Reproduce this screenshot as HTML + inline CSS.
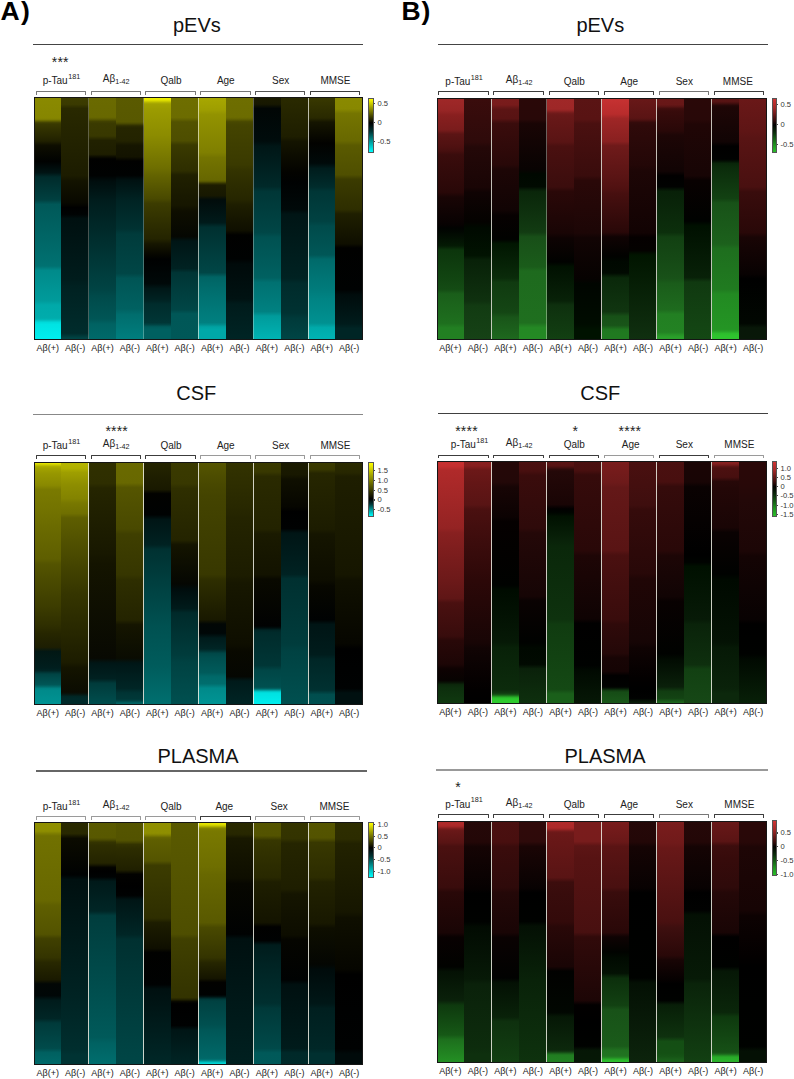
<!DOCTYPE html><html><head><meta charset="utf-8"><style>
html,body{margin:0;padding:0;background:#fff;}
body{width:794px;height:1079px;position:relative;overflow:hidden;font-family:"Liberation Sans", sans-serif;}
.t{position:absolute;white-space:nowrap;}
.r{position:absolute;}
sup{font-size:0.72em;vertical-align:0;position:relative;top:-0.74em;margin-left:0.5px;}
sub{font-size:0.72em;vertical-align:0;position:relative;top:0.3em;}
</style></head><body>
<div class="t" style="left:0.60px;top:-2.03px;width:60px;font-size:26.5px;line-height:26.5px;text-align:left;color:#000;font-weight:bold;letter-spacing:1.2px;">A)</div>
<div class="t" style="left:401.50px;top:-2.43px;width:60px;font-size:26.5px;line-height:26.5px;text-align:left;color:#000;font-weight:bold;letter-spacing:0.8px;">B)</div>
<div class="t" style="left:96.90px;top:15.37px;width:200px;font-size:20px;line-height:20px;text-align:center;color:#111;font-weight:normal;">pEVs</div>
<div class="r" style="left:33.00px;top:43.65px;width:330.00px;height:1.30px;background:#444;"></div>
<div class="t" style="left:30.30px;top:55.35px;width:60px;font-size:14px;line-height:14px;text-align:center;color:#222;font-weight:normal;letter-spacing:0.2px;">***</div>
<div class="t" style="left:21.40px;top:76.03px;width:80px;font-size:10px;line-height:10px;text-align:center;color:#222;font-weight:normal;">p-Tau<sup>181</sup></div>
<div class="r" style="left:35.80px;top:91.00px;width:50.40px;height:3.60px;border:1.2px solid #777;border-bottom:none;box-sizing:border-box;border-radius:1px 1px 0 0;"></div>
<div class="t" style="left:76.20px;top:74.13px;width:80px;font-size:10px;line-height:10px;text-align:center;color:#222;font-weight:normal;">A&beta;<sub>1-42</sub></div>
<div class="r" style="left:90.60px;top:91.00px;width:50.40px;height:3.60px;border:1.2px solid #777;border-bottom:none;box-sizing:border-box;border-radius:1px 1px 0 0;"></div>
<div class="t" style="left:131.00px;top:76.03px;width:80px;font-size:10px;line-height:10px;text-align:center;color:#222;font-weight:normal;">Qalb</div>
<div class="r" style="left:145.40px;top:91.00px;width:50.40px;height:3.60px;border:1.2px solid #777;border-bottom:none;box-sizing:border-box;border-radius:1px 1px 0 0;"></div>
<div class="t" style="left:185.80px;top:76.03px;width:80px;font-size:10px;line-height:10px;text-align:center;color:#222;font-weight:normal;">Age</div>
<div class="r" style="left:200.20px;top:91.00px;width:50.40px;height:3.60px;border:1.2px solid #777;border-bottom:none;box-sizing:border-box;border-radius:1px 1px 0 0;"></div>
<div class="t" style="left:240.60px;top:76.03px;width:80px;font-size:10px;line-height:10px;text-align:center;color:#222;font-weight:normal;">Sex</div>
<div class="r" style="left:255.00px;top:91.00px;width:50.40px;height:3.60px;border:1.2px solid #555;border-bottom:none;box-sizing:border-box;border-radius:1px 1px 0 0;"></div>
<div class="t" style="left:295.40px;top:76.03px;width:80px;font-size:10px;line-height:10px;text-align:center;color:#222;font-weight:normal;">MMSE</div>
<div class="r" style="left:309.80px;top:91.00px;width:50.40px;height:3.60px;border:1.2px solid #3c3c3c;border-bottom:none;box-sizing:border-box;border-radius:1px 1px 0 0;"></div>
<div class="r" style="left:34.00px;top:97.00px;width:27.70px;height:242.50px;background:linear-gradient(to bottom,#8a8a00 0%,#868600 8.71%,#7d7d00 9.23%,#636300 9.85%,#464600 10.46%,#393900 11.08%,#212100 18.09%,#0e0e00 19.85%,#000201 26.55%,#001414 31.19%,#002b2b 32.94%,#004040 42.32%,#005858 44.18%,#007171 69.54%,#008a8a 71.39%,#009b9b 83.87%,#00a9a9 85.62%,#00acac 90.98%,#00b6b6 91.60%,#00dada 92.73%,#00e3e3 93.56%,#00efef 100%);"></div>
<div class="r" style="left:61.40px;top:97.00px;width:27.70px;height:242.50px;background:linear-gradient(to bottom,#3d3d00 0%,#3a3a00 3.04%,#292900 4.69%,#1c1c00 32.42%,#131300 34.59%,#080800 43.66%,#000000 45.52%,#000303 48.30%,#001010 50.05%,#001c1c 74.90%,#002121 77.89%,#002c2c 97.27%,#004343 99.12%,#004545 100%);"></div>
<div class="r" style="left:88.80px;top:97.00px;width:27.70px;height:242.50px;background:linear-gradient(to bottom,#6a6a00 0%,#686800 8.30%,#5d5d00 9.02%,#414100 10.05%,#3a3a00 10.98%,#383800 16.03%,#212100 17.89%,#1e1e00 23.56%,#0d0d00 24.59%,#010100 25.52%,#000202 32.32%,#000d0d 34.59%,#001d1d 42.84%,#002e2e 59.02%,#004444 79.23%,#004b4b 82.22%,#005656 91.39%,#006262 93.35%,#006a6a 100%);"></div>
<div class="r" style="left:116.20px;top:97.00px;width:27.70px;height:242.50px;background:linear-gradient(to bottom,#5a5a00 0%,#585800 10.15%,#4e4e00 10.77%,#2c2c00 11.91%,#252500 12.73%,#232300 18.09%,#161600 19.85%,#131300 24.59%,#010100 26.34%,#000202 32.22%,#001111 34.18%,#002424 42.94%,#003232 54.38%,#003b3b 56.34%,#004646 72.63%,#005555 74.59%,#006161 87.27%,#006d6d 89.43%,#007f7f 100%);"></div>
<div class="r" style="left:143.60px;top:97.00px;width:27.70px;height:242.50px;background:linear-gradient(to bottom,#f0f000 0%,#ecec00 0.88%,#dede00 1.39%,#aeae00 2.42%,#a2a200 2.94%,#9c9c00 4.90%,#8c8c00 15.72%,#6e6e00 29.23%,#636300 32.42%,#494900 41.91%,#3c3c00 43.76%,#242400 58.40%,#161600 60.46%,#060600 65.00%,#000101 66.75%,#000909 76.75%,#001717 78.81%,#002222 83.35%,#002c2c 85.21%,#003636 92.84%,#004141 93.56%,#005a5a 94.59%,#006060 95.62%,#006060 100%);"></div>
<div class="r" style="left:171.00px;top:97.00px;width:27.70px;height:242.50px;background:linear-gradient(to bottom,#6e6e00 0%,#6c6c00 8.40%,#606000 9.33%,#525200 10.26%,#4e4e00 17.99%,#3a3a00 19.74%,#2e2e00 30.36%,#202000 32.11%,#161600 44.69%,#0e0e00 46.96%,#050702 57.47%,#001515 59.33%,#002222 70.57%,#003535 72.32%,#004646 87.47%,#005757 89.23%,#005858 100%);"></div>
<div class="r" style="left:198.40px;top:97.00px;width:27.70px;height:242.50px;background:linear-gradient(to bottom,#a8a800 0%,#9e9e00 5.21%,#939300 7.06%,#7f7f00 22.94%,#747400 24.90%,#676700 34.07%,#5b5b00 34.69%,#282800 35.82%,#1c1c00 36.44%,#171801 40.57%,#010c0b 42.32%,#001a1a 51.70%,#003030 53.56%,#004646 72.22%,#005454 73.14%,#006464 74.07%,#006d6d 79.12%,#008080 92.84%,#008d8d 93.66%,#00a2a2 94.59%,#00a8a8 95.72%,#00a8a8 100%);"></div>
<div class="r" style="left:225.80px;top:97.00px;width:27.70px;height:242.50px;background:linear-gradient(to bottom,#6e6e00 0%,#6c6c00 8.30%,#636300 9.02%,#494900 10.15%,#444400 11.49%,#3a3a00 27.78%,#333300 30.36%,#262600 42.11%,#1e1e00 44.38%,#0f0f00 55.00%,#010100 56.75%,#000202 66.65%,#000a0a 68.71%,#001212 83.14%,#001b1b 85.21%,#002525 100%);"></div>
<div class="r" style="left:253.20px;top:97.00px;width:27.70px;height:242.50px;background:linear-gradient(to bottom,#1a1a00 0%,#171801 2.94%,#010605 4.69%,#000c0c 18.20%,#001616 20.26%,#002929 36.86%,#003636 38.81%,#004646 55.72%,#005151 57.68%,#006161 74.38%,#007171 76.34%,#008181 88.30%,#009b9b 90.15%,#00b4b4 100%);"></div>
<div class="r" style="left:280.60px;top:97.00px;width:27.70px;height:242.50px;background:linear-gradient(to bottom,#2a2a00 0%,#1e1e00 16.34%,#141400 18.30%,#030300 30.98%,#000202 35.00%,#000909 46.24%,#001515 48.20%,#002222 74.59%,#002b2b 76.65%,#003232 88.71%,#003a3a 91.08%,#004545 100%);"></div>
<div class="r" style="left:308.00px;top:97.00px;width:27.70px;height:242.50px;background:linear-gradient(to bottom,#393900 0%,#292900 8.61%,#151500 10.36%,#020200 19.02%,#000a0a 27.27%,#001c1c 29.33%,#002c2c 37.06%,#003636 38.81%,#004242 51.19%,#004b4b 53.14%,#005757 65.00%,#006a6a 66.75%,#007c7c 79.64%,#008383 82.84%,#009191 93.04%,#00aaaa 94.90%,#00b4b4 100%);"></div>
<div class="r" style="left:335.40px;top:97.00px;width:27.70px;height:242.50px;background:linear-gradient(to bottom,#8a8a00 0%,#888800 4.90%,#757500 6.75%,#686800 18.09%,#5a5a00 19.85%,#4f4f00 32.01%,#3b3b00 33.87%,#2e2e00 46.24%,#1f1f00 48.09%,#0f0f00 60.36%,#010100 62.11%,#000202 79.23%,#000c0c 81.39%,#001b1b 93.35%,#002525 95.21%,#002525 100%);"></div>
<div class="r" style="left:88.30px;top:97.00px;width:1.00px;height:242.50px;background:rgba(238,238,228,0.3);"></div>
<div class="r" style="left:143.10px;top:97.00px;width:1.00px;height:242.50px;background:rgba(238,238,228,0.3);"></div>
<div class="r" style="left:197.90px;top:97.00px;width:1.00px;height:242.50px;background:rgba(238,238,228,0.65);"></div>
<div class="r" style="left:252.70px;top:97.00px;width:1.00px;height:242.50px;background:rgba(238,238,228,0.35);"></div>
<div class="r" style="left:307.50px;top:97.00px;width:1.00px;height:242.50px;background:rgba(238,238,228,0.75);"></div>
<div class="r" style="left:34.00px;top:97.00px;width:328.80px;height:242.50px;border:1px solid #151515;box-sizing:border-box;"></div>
<div class="t" style="left:27.70px;top:343.98px;width:40px;font-size:9px;line-height:9px;text-align:center;color:#222;font-weight:normal;">A&beta;(+)</div>
<div class="t" style="left:55.10px;top:343.98px;width:40px;font-size:9px;line-height:9px;text-align:center;color:#222;font-weight:normal;">A&beta;(-)</div>
<div class="t" style="left:82.50px;top:343.98px;width:40px;font-size:9px;line-height:9px;text-align:center;color:#222;font-weight:normal;">A&beta;(+)</div>
<div class="t" style="left:109.90px;top:343.98px;width:40px;font-size:9px;line-height:9px;text-align:center;color:#222;font-weight:normal;">A&beta;(-)</div>
<div class="t" style="left:137.30px;top:343.98px;width:40px;font-size:9px;line-height:9px;text-align:center;color:#222;font-weight:normal;">A&beta;(+)</div>
<div class="t" style="left:164.70px;top:343.98px;width:40px;font-size:9px;line-height:9px;text-align:center;color:#222;font-weight:normal;">A&beta;(-)</div>
<div class="t" style="left:192.10px;top:343.98px;width:40px;font-size:9px;line-height:9px;text-align:center;color:#222;font-weight:normal;">A&beta;(+)</div>
<div class="t" style="left:219.50px;top:343.98px;width:40px;font-size:9px;line-height:9px;text-align:center;color:#222;font-weight:normal;">A&beta;(-)</div>
<div class="t" style="left:246.90px;top:343.98px;width:40px;font-size:9px;line-height:9px;text-align:center;color:#222;font-weight:normal;">A&beta;(+)</div>
<div class="t" style="left:274.30px;top:343.98px;width:40px;font-size:9px;line-height:9px;text-align:center;color:#222;font-weight:normal;">A&beta;(-)</div>
<div class="t" style="left:301.70px;top:343.98px;width:40px;font-size:9px;line-height:9px;text-align:center;color:#222;font-weight:normal;">A&beta;(+)</div>
<div class="t" style="left:329.10px;top:343.98px;width:40px;font-size:9px;line-height:9px;text-align:center;color:#222;font-weight:normal;">A&beta;(-)</div>
<div class="r" style="left:368.30px;top:97.60px;width:5.60px;height:55.40px;background:linear-gradient(to bottom,#ffff00 0%,#a0a000 15.7%,#303000 36.0%,#000 45.0%,#003535 61.5%,#00aaaa 83.5%,#00ffff 100%);border:0.6px solid #555;box-sizing:border-box;"></div>
<div class="r" style="left:373.90px;top:102.70px;width:1.20px;height:1.20px;background:#444;"></div>
<div class="t" style="left:377.50px;top:99.62px;width:30px;font-size:7.6px;line-height:7.6px;text-align:left;color:#333;font-weight:normal;">0.5</div>
<div class="r" style="left:373.90px;top:121.80px;width:1.20px;height:1.20px;background:#444;"></div>
<div class="t" style="left:377.50px;top:118.72px;width:30px;font-size:7.6px;line-height:7.6px;text-align:left;color:#333;font-weight:normal;">0</div>
<div class="r" style="left:373.90px;top:141.10px;width:1.20px;height:1.20px;background:#444;"></div>
<div class="t" style="left:377.50px;top:138.02px;width:30px;font-size:7.6px;line-height:7.6px;text-align:left;color:#333;font-weight:normal;">-0.5</div>
<div class="t" style="left:96.20px;top:382.77px;width:200px;font-size:20px;line-height:20px;text-align:center;color:#111;font-weight:normal;">CSF</div>
<div class="r" style="left:33.00px;top:413.85px;width:330.00px;height:1.30px;background:#888;"></div>
<div class="t" style="left:86.70px;top:424.15px;width:60px;font-size:14px;line-height:14px;text-align:center;color:#222;font-weight:normal;letter-spacing:0.2px;">****</div>
<div class="t" style="left:21.40px;top:440.94px;width:80px;font-size:10px;line-height:10px;text-align:center;color:#222;font-weight:normal;">p-Tau<sup>181</sup></div>
<div class="r" style="left:35.80px;top:455.00px;width:50.40px;height:3.60px;border:1.2px solid #3c3c3c;border-bottom:none;box-sizing:border-box;border-radius:1px 1px 0 0;"></div>
<div class="t" style="left:76.20px;top:439.04px;width:80px;font-size:10px;line-height:10px;text-align:center;color:#222;font-weight:normal;">A&beta;<sub>1-42</sub></div>
<div class="r" style="left:90.60px;top:455.00px;width:50.40px;height:3.60px;border:1.2px solid #3c3c3c;border-bottom:none;box-sizing:border-box;border-radius:1px 1px 0 0;"></div>
<div class="t" style="left:131.00px;top:440.94px;width:80px;font-size:10px;line-height:10px;text-align:center;color:#222;font-weight:normal;">Qalb</div>
<div class="r" style="left:145.40px;top:455.00px;width:50.40px;height:3.60px;border:1.2px solid #3c3c3c;border-bottom:none;box-sizing:border-box;border-radius:1px 1px 0 0;"></div>
<div class="t" style="left:185.80px;top:440.94px;width:80px;font-size:10px;line-height:10px;text-align:center;color:#222;font-weight:normal;">Age</div>
<div class="r" style="left:200.20px;top:455.00px;width:50.40px;height:3.60px;border:1.2px solid #9a9a9a;border-bottom:none;box-sizing:border-box;border-radius:1px 1px 0 0;"></div>
<div class="t" style="left:240.60px;top:440.94px;width:80px;font-size:10px;line-height:10px;text-align:center;color:#222;font-weight:normal;">Sex</div>
<div class="r" style="left:255.00px;top:455.00px;width:50.40px;height:3.60px;border:1.2px solid #9a9a9a;border-bottom:none;box-sizing:border-box;border-radius:1px 1px 0 0;"></div>
<div class="t" style="left:295.40px;top:440.94px;width:80px;font-size:10px;line-height:10px;text-align:center;color:#222;font-weight:normal;">MMSE</div>
<div class="r" style="left:309.80px;top:455.00px;width:50.40px;height:3.60px;border:1.2px solid #9a9a9a;border-bottom:none;box-sizing:border-box;border-radius:1px 1px 0 0;"></div>
<div class="r" style="left:34.00px;top:462.20px;width:27.70px;height:242.40px;background:linear-gradient(to bottom,#eded00 0%,#e3e300 0.57%,#afaf00 1.80%,#a3a300 2.53%,#979700 4.69%,#898900 9.54%,#7a7a00 11.29%,#737300 19.74%,#6b6b00 26.55%,#5e5e00 39.95%,#545400 41.91%,#3c3c00 59.64%,#2e2e00 67.47%,#262600 70.57%,#1d1e02 76.24%,#021714 77.99%,#001e1e 84.79%,#002424 85.82%,#004343 87.27%,#004b4b 88.92%,#005555 91.49%,#006565 92.22%,#008282 93.14%,#008a8a 93.97%,#009494 100%);"></div>
<div class="r" style="left:61.40px;top:462.20px;width:27.70px;height:242.40px;background:linear-gradient(to bottom,#b7b700 0%,#afaf00 2.63%,#9f9f00 4.28%,#959500 7.27%,#8d8d00 9.54%,#838300 15.10%,#787800 16.96%,#6f6f00 21.19%,#5e5e00 22.94%,#353500 54.38%,#1c1c00 82.42%,#141400 84.48%,#0b0c02 94.69%,#08130c 95.41%,#012624 96.44%,#002a2a 97.47%,#002a2a 100%);"></div>
<div class="r" style="left:88.80px;top:462.20px;width:27.70px;height:242.40px;background:linear-gradient(to bottom,#303000 0%,#2e2e00 8.81%,#252500 10.77%,#181800 37.37%,#141400 41.80%,#080902 80.77%,#001616 82.73%,#002121 89.23%,#003b3b 91.08%,#004f4f 100%);"></div>
<div class="r" style="left:116.20px;top:462.20px;width:27.70px;height:242.40px;background:linear-gradient(to bottom,#6a6a00 0%,#686800 8.61%,#555500 10.46%,#494900 27.58%,#3f3f00 29.64%,#363600 46.44%,#2e2e00 48.51%,#242400 65.00%,#151500 66.96%,#0a0c02 80.77%,#001616 82.73%,#002626 93.25%,#003434 95.00%,#003838 97.58%,#004444 98.20%,#006363 99.23%,#006969 100%);"></div>
<div class="r" style="left:143.60px;top:462.20px;width:27.70px;height:242.40px;background:linear-gradient(to bottom,#252500 0%,#191900 11.29%,#020200 13.04%,#000202 21.70%,#001515 23.66%,#002222 34.07%,#003131 35.93%,#005151 67.27%,#005c5c 84.07%,#007070 100%);"></div>
<div class="r" style="left:171.00px;top:462.20px;width:27.70px;height:242.40px;background:linear-gradient(to bottom,#3a3a00 0%,#383800 8.92%,#2f2f00 10.88%,#242400 32.11%,#141400 34.07%,#050702 50.15%,#000d0d 52.42%,#001b1b 60.36%,#002a2a 62.11%,#003c3c 79.54%,#004242 82.42%,#005050 100%);"></div>
<div class="r" style="left:198.40px;top:462.20px;width:27.70px;height:242.40px;background:linear-gradient(to bottom,#555500 0%,#484800 9.33%,#444400 13.97%,#383800 46.34%,#2e2e00 48.51%,#191900 64.90%,#020705 66.65%,#000707 70.46%,#001b1b 72.42%,#002525 76.96%,#003434 77.78%,#004747 78.71%,#004e4e 80.26%,#005b5b 86.65%,#006969 88.40%,#006d6d 91.19%,#007b7b 92.11%,#008a8a 93.04%,#009595 100%);"></div>
<div class="r" style="left:225.80px;top:462.20px;width:27.70px;height:242.40px;background:linear-gradient(to bottom,#333300 0%,#282800 18.61%,#242400 22.94%,#1c1c00 46.65%,#171700 49.64%,#0e0e00 74.90%,#090900 77.89%,#050702 88.30%,#001a1a 90.15%,#002525 100%);"></div>
<div class="r" style="left:253.20px;top:462.20px;width:27.70px;height:242.40px;background:linear-gradient(to bottom,#3a3a00 0%,#383800 4.07%,#2a2a00 5.93%,#232300 27.58%,#1a1a00 29.54%,#131300 46.34%,#090900 48.30%,#010202 67.47%,#000c0c 68.20%,#002525 69.23%,#002b2b 70.26%,#003636 83.76%,#004646 85.72%,#005050 92.53%,#005a5a 93.04%,#007070 93.45%,#00c1c1 94.38%,#00d7d7 94.79%,#00e2e2 95.31%,#00efef 100%);"></div>
<div class="r" style="left:280.60px;top:462.20px;width:27.70px;height:242.40px;background:linear-gradient(to bottom,#1a1a00 0%,#181800 5.21%,#0f0f00 7.16%,#060600 18.40%,#000000 20.46%,#000202 27.37%,#001515 29.23%,#002222 46.24%,#003030 47.99%,#003c3c 74.90%,#004242 77.99%,#005050 100%);"></div>
<div class="r" style="left:308.00px;top:462.20px;width:27.70px;height:242.40px;background:linear-gradient(to bottom,#3a3a00 0%,#373700 3.04%,#262600 4.69%,#1c1c00 27.68%,#151500 29.74%,#0d0d00 48.51%,#070700 50.98%,#000202 64.90%,#001515 66.86%,#001c1c 79.23%,#002626 81.19%,#003131 93.87%,#003f3f 94.79%,#004e4e 95.72%,#005050 100%);"></div>
<div class="r" style="left:335.40px;top:462.20px;width:27.70px;height:242.40px;background:linear-gradient(to bottom,#2a2a00 0%,#272700 4.28%,#1e1e00 6.03%,#161600 46.44%,#101000 48.71%,#060600 74.69%,#000000 76.86%,#000202 93.14%,#001010 95.10%,#001010 100%);"></div>
<div class="r" style="left:88.30px;top:462.20px;width:1.00px;height:242.40px;background:rgba(238,238,228,0.85);"></div>
<div class="r" style="left:143.10px;top:462.20px;width:1.00px;height:242.40px;background:rgba(238,238,228,0.85);"></div>
<div class="r" style="left:197.90px;top:462.20px;width:1.00px;height:242.40px;background:rgba(238,238,228,0.85);"></div>
<div class="r" style="left:252.70px;top:462.20px;width:1.00px;height:242.40px;background:rgba(238,238,228,0.85);"></div>
<div class="r" style="left:307.50px;top:462.20px;width:1.00px;height:242.40px;background:rgba(238,238,228,0.85);"></div>
<div class="r" style="left:34.00px;top:462.20px;width:328.80px;height:242.40px;border:1px solid #151515;box-sizing:border-box;"></div>
<div class="t" style="left:27.70px;top:708.78px;width:40px;font-size:9px;line-height:9px;text-align:center;color:#222;font-weight:normal;">A&beta;(+)</div>
<div class="t" style="left:55.10px;top:708.78px;width:40px;font-size:9px;line-height:9px;text-align:center;color:#222;font-weight:normal;">A&beta;(-)</div>
<div class="t" style="left:82.50px;top:708.78px;width:40px;font-size:9px;line-height:9px;text-align:center;color:#222;font-weight:normal;">A&beta;(+)</div>
<div class="t" style="left:109.90px;top:708.78px;width:40px;font-size:9px;line-height:9px;text-align:center;color:#222;font-weight:normal;">A&beta;(-)</div>
<div class="t" style="left:137.30px;top:708.78px;width:40px;font-size:9px;line-height:9px;text-align:center;color:#222;font-weight:normal;">A&beta;(+)</div>
<div class="t" style="left:164.70px;top:708.78px;width:40px;font-size:9px;line-height:9px;text-align:center;color:#222;font-weight:normal;">A&beta;(-)</div>
<div class="t" style="left:192.10px;top:708.78px;width:40px;font-size:9px;line-height:9px;text-align:center;color:#222;font-weight:normal;">A&beta;(+)</div>
<div class="t" style="left:219.50px;top:708.78px;width:40px;font-size:9px;line-height:9px;text-align:center;color:#222;font-weight:normal;">A&beta;(-)</div>
<div class="t" style="left:246.90px;top:708.78px;width:40px;font-size:9px;line-height:9px;text-align:center;color:#222;font-weight:normal;">A&beta;(+)</div>
<div class="t" style="left:274.30px;top:708.78px;width:40px;font-size:9px;line-height:9px;text-align:center;color:#222;font-weight:normal;">A&beta;(-)</div>
<div class="t" style="left:301.70px;top:708.78px;width:40px;font-size:9px;line-height:9px;text-align:center;color:#222;font-weight:normal;">A&beta;(+)</div>
<div class="t" style="left:329.10px;top:708.78px;width:40px;font-size:9px;line-height:9px;text-align:center;color:#222;font-weight:normal;">A&beta;(-)</div>
<div class="r" style="left:368.30px;top:461.90px;width:5.60px;height:54.80px;background:linear-gradient(to bottom,#ffff00 0%,#a0a000 23.8%,#303000 54.4%,#000 68.0%,#003535 77.6%,#00aaaa 90.4%,#00ffff 100%);border:0.6px solid #555;box-sizing:border-box;"></div>
<div class="r" style="left:373.90px;top:470.20px;width:1.20px;height:1.20px;background:#444;"></div>
<div class="t" style="left:377.50px;top:467.12px;width:30px;font-size:7.6px;line-height:7.6px;text-align:left;color:#333;font-weight:normal;">1.5</div>
<div class="r" style="left:373.90px;top:479.80px;width:1.20px;height:1.20px;background:#444;"></div>
<div class="t" style="left:377.50px;top:476.72px;width:30px;font-size:7.6px;line-height:7.6px;text-align:left;color:#333;font-weight:normal;">1.0</div>
<div class="r" style="left:373.90px;top:489.80px;width:1.20px;height:1.20px;background:#444;"></div>
<div class="t" style="left:377.50px;top:486.72px;width:30px;font-size:7.6px;line-height:7.6px;text-align:left;color:#333;font-weight:normal;">0.5</div>
<div class="r" style="left:373.90px;top:499.40px;width:1.20px;height:1.20px;background:#444;"></div>
<div class="t" style="left:377.50px;top:496.32px;width:30px;font-size:7.6px;line-height:7.6px;text-align:left;color:#333;font-weight:normal;">0</div>
<div class="r" style="left:373.90px;top:509.10px;width:1.20px;height:1.20px;background:#444;"></div>
<div class="t" style="left:377.50px;top:506.02px;width:30px;font-size:7.6px;line-height:7.6px;text-align:left;color:#333;font-weight:normal;">-0.5</div>
<div class="t" style="left:98.00px;top:746.07px;width:200px;font-size:20px;line-height:20px;text-align:center;color:#111;font-weight:normal;">PLASMA</div>
<div class="r" style="left:36.40px;top:770.10px;width:330.60px;height:1.80px;background:#666;"></div>
<div class="t" style="left:21.40px;top:801.93px;width:80px;font-size:10px;line-height:10px;text-align:center;color:#222;font-weight:normal;">p-Tau<sup>181</sup></div>
<div class="r" style="left:35.80px;top:816.00px;width:50.40px;height:3.60px;border:1.2px solid #9a9a9a;border-bottom:none;box-sizing:border-box;border-radius:1px 1px 0 0;"></div>
<div class="t" style="left:76.20px;top:800.03px;width:80px;font-size:10px;line-height:10px;text-align:center;color:#222;font-weight:normal;">A&beta;<sub>1-42</sub></div>
<div class="r" style="left:90.60px;top:816.00px;width:50.40px;height:3.60px;border:1.2px solid #9a9a9a;border-bottom:none;box-sizing:border-box;border-radius:1px 1px 0 0;"></div>
<div class="t" style="left:131.00px;top:801.93px;width:80px;font-size:10px;line-height:10px;text-align:center;color:#222;font-weight:normal;">Qalb</div>
<div class="r" style="left:145.40px;top:816.00px;width:50.40px;height:3.60px;border:1.2px solid #9a9a9a;border-bottom:none;box-sizing:border-box;border-radius:1px 1px 0 0;"></div>
<div class="t" style="left:184.30px;top:801.93px;width:80px;font-size:10px;line-height:10px;text-align:center;color:#222;font-weight:normal;">Age</div>
<div class="r" style="left:200.20px;top:816.00px;width:50.40px;height:3.60px;border:1.2px solid #3c3c3c;border-bottom:none;box-sizing:border-box;border-radius:1px 1px 0 0;"></div>
<div class="t" style="left:239.10px;top:801.93px;width:80px;font-size:10px;line-height:10px;text-align:center;color:#222;font-weight:normal;">Sex</div>
<div class="r" style="left:255.00px;top:816.00px;width:50.40px;height:3.60px;border:1.2px solid #9a9a9a;border-bottom:none;box-sizing:border-box;border-radius:1px 1px 0 0;"></div>
<div class="t" style="left:294.40px;top:801.93px;width:80px;font-size:10px;line-height:10px;text-align:center;color:#222;font-weight:normal;">MMSE</div>
<div class="r" style="left:309.80px;top:816.00px;width:50.40px;height:3.60px;border:1.2px solid #9a9a9a;border-bottom:none;box-sizing:border-box;border-radius:1px 1px 0 0;"></div>
<div class="r" style="left:34.00px;top:822.30px;width:27.70px;height:242.30px;background:linear-gradient(to bottom,#909000 0%,#8e8e00 3.77%,#7d7d00 4.80%,#717100 5.73%,#686800 32.25%,#5f5f00 34.31%,#535300 46.18%,#404000 48.04%,#343400 55.78%,#282800 57.74%,#1a1a00 64.86%,#020705 66.62%,#000707 71.47%,#001b1b 73.43%,#002626 80.96%,#003a3a 82.71%,#004b4b 93.14%,#006060 94.89%,#006a6a 100%);"></div>
<div class="r" style="left:61.40px;top:822.30px;width:27.70px;height:242.30px;background:linear-gradient(to bottom,#2a2a00 0%,#282800 4.80%,#171700 5.83%,#0b0b00 6.76%,#000202 21.72%,#001010 23.68%,#002323 71.98%,#002e2e 93.55%,#003333 95.92%,#003333 100%);"></div>
<div class="r" style="left:88.80px;top:822.30px;width:27.70px;height:242.30px;background:linear-gradient(to bottom,#5a5a00 0%,#585800 6.45%,#4e4e00 7.17%,#343400 8.31%,#2e2e00 9.65%,#242400 16.87%,#171700 17.70%,#040400 18.63%,#000000 20.18%,#000303 22.65%,#001919 24.41%,#002626 36.69%,#003d3d 38.54%,#004c4c 65.79%,#005a5a 88.70%,#006262 91.07%,#006e6e 100%);"></div>
<div class="r" style="left:116.20px;top:822.30px;width:27.70px;height:242.30px;background:linear-gradient(to bottom,#555500 0%,#535300 7.48%,#464600 8.31%,#333300 9.24%,#2d2d00 10.89%,#202000 19.66%,#111100 20.59%,#020200 21.52%,#000000 26.16%,#000202 30.19%,#001515 32.04%,#002626 46.39%,#003030 48.25%,#004444 94.17%,#004646 100%);"></div>
<div class="r" style="left:143.60px;top:822.30px;width:27.70px;height:242.30px;background:linear-gradient(to bottom,#909000 0%,#8e8e00 4.59%,#828200 5.31%,#666600 6.35%,#5f5f00 7.28%,#545400 16.05%,#3c3c00 17.80%,#2e2e00 39.58%,#1d1d00 41.43%,#0f0f00 51.96%,#010100 53.72%,#000202 66.82%,#001010 68.78%,#001c1c 84.57%,#002828 100%);"></div>
<div class="r" style="left:171.00px;top:822.30px;width:27.70px;height:242.30px;background:linear-gradient(to bottom,#5a5a00 0%,#4e4e00 46.18%,#404000 48.14%,#333300 72.19%,#262600 72.91%,#070700 73.94%,#000000 74.77%,#000202 83.75%,#001515 85.60%,#002525 100%);"></div>
<div class="r" style="left:198.40px;top:822.30px;width:27.70px;height:242.30px;background:linear-gradient(to bottom,#e8e800 0%,#e2e200 0.88%,#d4d400 1.29%,#b5b500 1.81%,#8d8d00 2.43%,#808000 2.84%,#797900 3.66%,#6e6e00 18.52%,#686800 21.52%,#595900 41.43%,#494900 43.40%,#343400 55.78%,#262600 57.84%,#151500 64.34%,#020200 66.00%,#000202 71.05%,#000c0c 71.67%,#003838 72.91%,#004141 73.63%,#005050 83.54%,#005858 86.02%,#006868 97.27%,#007373 97.78%,#008989 98.19%,#00c5c5 99.02%,#00d7d7 99.43%,#00dfdf 100%);"></div>
<div class="r" style="left:225.80px;top:822.30px;width:27.70px;height:242.30px;background:linear-gradient(to bottom,#2a2a00 0%,#272700 5.01%,#181800 6.76%,#0e0e00 23.07%,#070700 25.23%,#000202 46.18%,#001010 48.14%,#002020 100%);"></div>
<div class="r" style="left:253.20px;top:822.30px;width:27.70px;height:242.30px;background:linear-gradient(to bottom,#555500 0%,#535300 5.62%,#464600 6.55%,#373700 7.48%,#313100 12.54%,#282800 22.86%,#1e1e00 24.72%,#141400 41.33%,#010100 43.19%,#000202 48.76%,#000e0e 49.69%,#001c1c 50.62%,#002323 58.26%,#002f2f 74.56%,#003939 76.63%,#004949 93.14%,#005959 94.99%,#005a5a 100%);"></div>
<div class="r" style="left:280.60px;top:822.30px;width:27.70px;height:242.30px;background:linear-gradient(to bottom,#353500 0%,#333300 6.86%,#252500 8.72%,#1e1e00 27.61%,#151500 29.57%,#0d0d00 46.39%,#050500 48.45%,#000202 64.96%,#001010 66.92%,#001b1b 93.14%,#002929 94.99%,#002a2a 100%);"></div>
<div class="r" style="left:308.00px;top:822.30px;width:27.70px;height:242.30px;background:linear-gradient(to bottom,#555500 0%,#535300 6.55%,#464600 7.48%,#383800 8.41%,#333300 14.40%,#2c2c00 22.86%,#222200 24.72%,#181800 41.64%,#0e0e00 43.60%,#040602 58.57%,#000b0b 60.73%,#001717 74.66%,#001f1f 76.73%,#002727 93.34%,#003030 95.30%,#003030 100%);"></div>
<div class="r" style="left:335.40px;top:822.30px;width:27.70px;height:242.30px;background:linear-gradient(to bottom,#2e2e00 0%,#2c2c00 6.97%,#222200 8.82%,#161600 37.10%,#0f0f00 39.37%,#060600 60.53%,#000000 62.69%,#000202 93.34%,#000a0a 95.41%,#000a0a 100%);"></div>
<div class="r" style="left:88.30px;top:822.30px;width:1.00px;height:242.30px;background:rgba(238,238,228,0.85);"></div>
<div class="r" style="left:143.10px;top:822.30px;width:1.00px;height:242.30px;background:rgba(238,238,228,0.85);"></div>
<div class="r" style="left:197.90px;top:822.30px;width:1.00px;height:242.30px;background:rgba(238,238,228,0.85);"></div>
<div class="r" style="left:252.70px;top:822.30px;width:1.00px;height:242.30px;background:rgba(238,238,228,0.85);"></div>
<div class="r" style="left:307.50px;top:822.30px;width:1.00px;height:242.30px;background:rgba(238,238,228,0.85);"></div>
<div class="r" style="left:34.00px;top:822.30px;width:328.80px;height:242.30px;border:1px solid #151515;box-sizing:border-box;"></div>
<div class="t" style="left:27.70px;top:1069.08px;width:40px;font-size:9px;line-height:9px;text-align:center;color:#222;font-weight:normal;">A&beta;(+)</div>
<div class="t" style="left:55.10px;top:1069.08px;width:40px;font-size:9px;line-height:9px;text-align:center;color:#222;font-weight:normal;">A&beta;(-)</div>
<div class="t" style="left:82.50px;top:1069.08px;width:40px;font-size:9px;line-height:9px;text-align:center;color:#222;font-weight:normal;">A&beta;(+)</div>
<div class="t" style="left:109.90px;top:1069.08px;width:40px;font-size:9px;line-height:9px;text-align:center;color:#222;font-weight:normal;">A&beta;(-)</div>
<div class="t" style="left:137.30px;top:1069.08px;width:40px;font-size:9px;line-height:9px;text-align:center;color:#222;font-weight:normal;">A&beta;(+)</div>
<div class="t" style="left:164.70px;top:1069.08px;width:40px;font-size:9px;line-height:9px;text-align:center;color:#222;font-weight:normal;">A&beta;(-)</div>
<div class="t" style="left:192.10px;top:1069.08px;width:40px;font-size:9px;line-height:9px;text-align:center;color:#222;font-weight:normal;">A&beta;(+)</div>
<div class="t" style="left:219.50px;top:1069.08px;width:40px;font-size:9px;line-height:9px;text-align:center;color:#222;font-weight:normal;">A&beta;(-)</div>
<div class="t" style="left:246.90px;top:1069.08px;width:40px;font-size:9px;line-height:9px;text-align:center;color:#222;font-weight:normal;">A&beta;(+)</div>
<div class="t" style="left:274.30px;top:1069.08px;width:40px;font-size:9px;line-height:9px;text-align:center;color:#222;font-weight:normal;">A&beta;(-)</div>
<div class="t" style="left:301.70px;top:1069.08px;width:40px;font-size:9px;line-height:9px;text-align:center;color:#222;font-weight:normal;">A&beta;(+)</div>
<div class="t" style="left:329.10px;top:1069.08px;width:40px;font-size:9px;line-height:9px;text-align:center;color:#222;font-weight:normal;">A&beta;(-)</div>
<div class="r" style="left:368.30px;top:822.40px;width:5.60px;height:55.50px;background:linear-gradient(to bottom,#ffff00 0%,#a0a000 16.1%,#303000 36.8%,#000 46.0%,#003535 62.2%,#00aaaa 83.8%,#00ffff 100%);border:0.6px solid #555;box-sizing:border-box;"></div>
<div class="r" style="left:373.90px;top:823.90px;width:1.20px;height:1.20px;background:#444;"></div>
<div class="t" style="left:377.50px;top:820.82px;width:30px;font-size:7.6px;line-height:7.6px;text-align:left;color:#333;font-weight:normal;">1.0</div>
<div class="r" style="left:373.90px;top:835.70px;width:1.20px;height:1.20px;background:#444;"></div>
<div class="t" style="left:377.50px;top:832.62px;width:30px;font-size:7.6px;line-height:7.6px;text-align:left;color:#333;font-weight:normal;">0.5</div>
<div class="r" style="left:373.90px;top:847.20px;width:1.20px;height:1.20px;background:#444;"></div>
<div class="t" style="left:377.50px;top:844.12px;width:30px;font-size:7.6px;line-height:7.6px;text-align:left;color:#333;font-weight:normal;">0</div>
<div class="r" style="left:373.90px;top:859.20px;width:1.20px;height:1.20px;background:#444;"></div>
<div class="t" style="left:377.50px;top:856.12px;width:30px;font-size:7.6px;line-height:7.6px;text-align:left;color:#333;font-weight:normal;">-0.5</div>
<div class="r" style="left:373.90px;top:871.00px;width:1.20px;height:1.20px;background:#444;"></div>
<div class="t" style="left:377.50px;top:867.92px;width:30px;font-size:7.6px;line-height:7.6px;text-align:left;color:#333;font-weight:normal;">-1.0</div>
<div class="t" style="left:500.30px;top:15.47px;width:200px;font-size:20px;line-height:20px;text-align:center;color:#111;font-weight:normal;">pEVs</div>
<div class="r" style="left:438.00px;top:43.55px;width:330.00px;height:1.30px;background:#444;"></div>
<div class="t" style="left:424.12px;top:77.13px;width:80px;font-size:10px;line-height:10px;text-align:center;color:#222;font-weight:normal;">p-Tau<sup>181</sup></div>
<div class="r" style="left:438.40px;top:91.20px;width:50.65px;height:3.60px;border:1.2px solid #3c3c3c;border-bottom:none;box-sizing:border-box;border-radius:1px 1px 0 0;"></div>
<div class="t" style="left:479.18px;top:75.23px;width:80px;font-size:10px;line-height:10px;text-align:center;color:#222;font-weight:normal;">A&beta;<sub>1-42</sub></div>
<div class="r" style="left:493.45px;top:91.20px;width:50.65px;height:3.60px;border:1.2px solid #3c3c3c;border-bottom:none;box-sizing:border-box;border-radius:1px 1px 0 0;"></div>
<div class="t" style="left:534.23px;top:77.13px;width:80px;font-size:10px;line-height:10px;text-align:center;color:#222;font-weight:normal;">Qalb</div>
<div class="r" style="left:548.50px;top:91.20px;width:50.65px;height:3.60px;border:1.2px solid #3c3c3c;border-bottom:none;box-sizing:border-box;border-radius:1px 1px 0 0;"></div>
<div class="t" style="left:589.27px;top:77.13px;width:80px;font-size:10px;line-height:10px;text-align:center;color:#222;font-weight:normal;">Age</div>
<div class="r" style="left:603.55px;top:91.20px;width:50.65px;height:3.60px;border:1.2px solid #3c3c3c;border-bottom:none;box-sizing:border-box;border-radius:1px 1px 0 0;"></div>
<div class="t" style="left:644.32px;top:77.13px;width:80px;font-size:10px;line-height:10px;text-align:center;color:#222;font-weight:normal;">Sex</div>
<div class="r" style="left:658.60px;top:91.20px;width:50.65px;height:3.60px;border:1.2px solid #777;border-bottom:none;box-sizing:border-box;border-radius:1px 1px 0 0;"></div>
<div class="t" style="left:697.87px;top:77.13px;width:80px;font-size:10px;line-height:10px;text-align:center;color:#222;font-weight:normal;">MMSE</div>
<div class="r" style="left:713.65px;top:91.20px;width:50.65px;height:3.60px;border:1.2px solid #3c3c3c;border-bottom:none;box-sizing:border-box;border-radius:1px 1px 0 0;"></div>
<div class="r" style="left:436.60px;top:98.00px;width:27.82px;height:241.70px;background:linear-gradient(to bottom,#a02828 0%,#972525 5.12%,#881f1f 7.08%,#7a1c1c 13.08%,#6b1818 14.01%,#5b1414 14.94%,#4f1111 19.91%,#470f0f 21.87%,#3a0c0c 23.42%,#290808 38.93%,#190505 40.90%,#080202 52.07%,#010301 53.83%,#041a04 61.07%,#0c350c 62.82%,#114411 74.20%,#144b14 79.06%,#1a5e1a 80.92%,#1e6f1e 93.12%,#227f22 94.98%,#228022 100%);"></div>
<div class="r" style="left:464.12px;top:98.00px;width:27.82px;height:241.70px;background:linear-gradient(to bottom,#3a0c0c 0%,#2e0a0a 18.25%,#240808 20.22%,#190505 36.97%,#0f0303 39.04%,#040200 51.14%,#000900 53.52%,#011301 65.10%,#082108 66.96%,#0f310f 83.92%,#123b12 85.88%,#164216 100%);"></div>
<div class="r" style="left:491.65px;top:98.00px;width:27.82px;height:241.70px;background:linear-gradient(to bottom,#7a1c1c 0%,#781b1b 2.84%,#671717 3.88%,#5b1414 4.81%,#581313 8.53%,#470f0f 9.57%,#3a0c0c 10.50%,#280808 27.56%,#1d0606 29.42%,#110404 46.38%,#070101 48.45%,#010200 58.38%,#011601 60.24%,#0a2b0a 74.41%,#103a10 76.16%,#144614 88.57%,#195519 90.64%,#1e691e 100%);"></div>
<div class="r" style="left:519.17px;top:98.00px;width:27.82px;height:241.70px;background:linear-gradient(to bottom,#2a0808 0%,#280808 8.74%,#190505 10.60%,#080302 29.63%,#000800 31.49%,#010a01 36.66%,#071c07 37.80%,#0a260a 38.73%,#123b12 55.48%,#184f18 57.34%,#1a5c1a 69.75%,#1e6a1e 71.51%,#1f6f1f 92.92%,#227d22 93.95%,#248824 94.88%,#248a24 100%);"></div>
<div class="r" style="left:546.70px;top:98.00px;width:27.82px;height:241.70px;background:linear-gradient(to bottom,#a02828 0%,#9e2727 4.50%,#942424 5.12%,#711a1a 6.26%,#691818 7.08%,#591414 18.15%,#4a1010 19.91%,#3b0d0d 36.76%,#2a0808 38.62%,#190505 55.79%,#0e0303 57.86%,#010200 67.79%,#011101 69.75%,#082208 83.82%,#0e300e 85.57%,#124012 100%);"></div>
<div class="r" style="left:574.23px;top:98.00px;width:27.82px;height:241.70px;background:linear-gradient(to bottom,#5a1414 0%,#581313 8.74%,#4a1010 10.60%,#390c0c 32.11%,#2a0808 34.07%,#1c0606 55.79%,#120404 57.65%,#060201 74.72%,#000500 76.78%,#000c00 93.43%,#001200 95.60%,#001200 100%);"></div>
<div class="r" style="left:601.75px;top:98.00px;width:27.82px;height:241.70px;background:linear-gradient(to bottom,#c73232 0%,#b82c2c 6.67%,#9f2626 8.53%,#892020 17.94%,#6f1a1a 19.70%,#591414 32.83%,#501111 37.28%,#470f0f 39.45%,#290808 55.48%,#100303 57.34%,#010200 65.41%,#000800 67.68%,#010a01 72.34%,#061b06 73.37%,#0a280a 74.30%,#103510 88.26%,#144214 89.19%,#175017 90.12%,#195519 93.95%,#1c651c 94.78%,#1f761f 95.60%,#207a20 97.05%,#207a20 100%);"></div>
<div class="r" style="left:629.27px;top:98.00px;width:27.82px;height:241.70px;background:linear-gradient(to bottom,#691818 0%,#5a1414 8.32%,#4f1111 9.05%,#350b0b 10.08%,#2f0a0a 11.12%,#230707 27.77%,#1d0606 30.14%,#120303 55.69%,#050000 57.55%,#040200 63.03%,#011500 64.89%,#103010 100%);"></div>
<div class="r" style="left:656.80px;top:98.00px;width:27.82px;height:241.70px;background:linear-gradient(to bottom,#6a1818 0%,#671717 2.74%,#5a1414 3.46%,#400d0d 4.40%,#380b0b 5.33%,#290808 13.50%,#1d0606 15.36%,#110404 30.25%,#010000 32.11%,#010201 36.66%,#051305 37.69%,#082008 38.62%,#0c2f0c 55.58%,#124012 57.45%,#185118 74.51%,#1a5c1a 76.58%,#1e6b1e 87.44%,#227f22 89.30%,#238223 96.74%,#279327 97.78%,#2a9f2a 98.71%,#2aa02a 100%);"></div>
<div class="r" style="left:684.33px;top:98.00px;width:27.82px;height:241.70px;background:linear-gradient(to bottom,#2a0808 0%,#280808 8.95%,#200606 10.91%,#170505 32.11%,#080101 34.07%,#000200 50.83%,#001000 52.79%,#082108 74.20%,#103910 76.06%,#144814 100%);"></div>
<div class="r" style="left:711.85px;top:98.00px;width:27.82px;height:241.70px;background:linear-gradient(to bottom,#5a1414 0%,#571313 1.40%,#491010 2.02%,#260808 3.05%,#1e0606 3.77%,#110404 18.05%,#010000 19.91%,#010201 25.28%,#030e03 26.01%,#092509 27.04%,#0b2b0b 28.49%,#124112 41.52%,#185218 43.38%,#1c611c 60.34%,#1e6e1e 62.20%,#207b20 79.06%,#228a22 81.02%,#249524 95.60%,#27a127 96.33%,#2dbd2d 97.36%,#2ec42e 98.29%,#2ec42e 100%);"></div>
<div class="r" style="left:739.38px;top:98.00px;width:27.82px;height:241.70px;background:linear-gradient(to bottom,#6a1818 0%,#5e1515 13.81%,#581414 16.70%,#491010 36.76%,#390c0c 38.73%,#290808 55.58%,#190505 57.55%,#080202 72.75%,#000000 74.61%,#010701 93.12%,#081708 94.98%,#081808 100%);"></div>
<div class="r" style="left:491.15px;top:98.00px;width:1.00px;height:241.70px;background:rgba(238,238,228,0.8);"></div>
<div class="r" style="left:546.20px;top:98.00px;width:1.00px;height:241.70px;background:rgba(238,238,228,0.4);"></div>
<div class="r" style="left:601.25px;top:98.00px;width:1.00px;height:241.70px;background:rgba(238,238,228,0.8);"></div>
<div class="r" style="left:656.30px;top:98.00px;width:1.00px;height:241.70px;background:rgba(238,238,228,0.8);"></div>
<div class="r" style="left:711.35px;top:98.00px;width:1.00px;height:241.70px;background:rgba(238,238,228,0.8);"></div>
<div class="r" style="left:436.60px;top:98.00px;width:330.30px;height:241.70px;border:1px solid #151515;box-sizing:border-box;"></div>
<div class="t" style="left:430.36px;top:344.38px;width:40px;font-size:9px;line-height:9px;text-align:center;color:#222;font-weight:normal;">A&beta;(+)</div>
<div class="t" style="left:457.89px;top:344.38px;width:40px;font-size:9px;line-height:9px;text-align:center;color:#222;font-weight:normal;">A&beta;(-)</div>
<div class="t" style="left:485.41px;top:344.38px;width:40px;font-size:9px;line-height:9px;text-align:center;color:#222;font-weight:normal;">A&beta;(+)</div>
<div class="t" style="left:512.94px;top:344.38px;width:40px;font-size:9px;line-height:9px;text-align:center;color:#222;font-weight:normal;">A&beta;(-)</div>
<div class="t" style="left:540.46px;top:344.38px;width:40px;font-size:9px;line-height:9px;text-align:center;color:#222;font-weight:normal;">A&beta;(+)</div>
<div class="t" style="left:567.99px;top:344.38px;width:40px;font-size:9px;line-height:9px;text-align:center;color:#222;font-weight:normal;">A&beta;(-)</div>
<div class="t" style="left:595.51px;top:344.38px;width:40px;font-size:9px;line-height:9px;text-align:center;color:#222;font-weight:normal;">A&beta;(+)</div>
<div class="t" style="left:623.04px;top:344.38px;width:40px;font-size:9px;line-height:9px;text-align:center;color:#222;font-weight:normal;">A&beta;(-)</div>
<div class="t" style="left:650.56px;top:344.38px;width:40px;font-size:9px;line-height:9px;text-align:center;color:#222;font-weight:normal;">A&beta;(+)</div>
<div class="t" style="left:678.09px;top:344.38px;width:40px;font-size:9px;line-height:9px;text-align:center;color:#222;font-weight:normal;">A&beta;(-)</div>
<div class="t" style="left:705.61px;top:344.38px;width:40px;font-size:9px;line-height:9px;text-align:center;color:#222;font-weight:normal;">A&beta;(+)</div>
<div class="t" style="left:733.14px;top:344.38px;width:40px;font-size:9px;line-height:9px;text-align:center;color:#222;font-weight:normal;">A&beta;(-)</div>
<div class="r" style="left:771.60px;top:98.20px;width:5.60px;height:54.50px;background:linear-gradient(to bottom,#d03333 0%,#a02828 17.1%,#3a0c0c 39.2%,#000 49.0%,#0c300c 64.3%,#1e8a1e 84.7%,#28c028 100%);border:0.6px solid #555;box-sizing:border-box;"></div>
<div class="r" style="left:777.20px;top:104.10px;width:1.20px;height:1.20px;background:#444;"></div>
<div class="t" style="left:780.50px;top:101.02px;width:30px;font-size:7.6px;line-height:7.6px;text-align:left;color:#333;font-weight:normal;">0.5</div>
<div class="r" style="left:777.20px;top:124.20px;width:1.20px;height:1.20px;background:#444;"></div>
<div class="t" style="left:780.50px;top:121.12px;width:30px;font-size:7.6px;line-height:7.6px;text-align:left;color:#333;font-weight:normal;">0</div>
<div class="r" style="left:777.20px;top:144.10px;width:1.20px;height:1.20px;background:#444;"></div>
<div class="t" style="left:780.50px;top:141.02px;width:30px;font-size:7.6px;line-height:7.6px;text-align:left;color:#333;font-weight:normal;">-0.5</div>
<div class="t" style="left:500.30px;top:382.57px;width:200px;font-size:20px;line-height:20px;text-align:center;color:#111;font-weight:normal;">CSF</div>
<div class="r" style="left:438.00px;top:412.85px;width:330.00px;height:1.30px;background:#404040;"></div>
<div class="t" style="left:436.50px;top:424.05px;width:60px;font-size:14px;line-height:14px;text-align:center;color:#222;font-weight:normal;letter-spacing:0.2px;">****</div>
<div class="t" style="left:545.30px;top:424.05px;width:60px;font-size:14px;line-height:14px;text-align:center;color:#222;font-weight:normal;letter-spacing:0.2px;">*</div>
<div class="t" style="left:599.90px;top:424.05px;width:60px;font-size:14px;line-height:14px;text-align:center;color:#222;font-weight:normal;letter-spacing:0.2px;">****</div>
<div class="t" style="left:429.62px;top:440.24px;width:80px;font-size:10px;line-height:10px;text-align:center;color:#222;font-weight:normal;">p-Tau<sup>181</sup></div>
<div class="r" style="left:438.40px;top:454.70px;width:50.65px;height:3.60px;border:1.2px solid #3c3c3c;border-bottom:none;box-sizing:border-box;border-radius:1px 1px 0 0;"></div>
<div class="t" style="left:479.18px;top:438.34px;width:80px;font-size:10px;line-height:10px;text-align:center;color:#222;font-weight:normal;">A&beta;<sub>1-42</sub></div>
<div class="r" style="left:493.45px;top:454.70px;width:50.65px;height:3.60px;border:1.2px solid #3c3c3c;border-bottom:none;box-sizing:border-box;border-radius:1px 1px 0 0;"></div>
<div class="t" style="left:534.23px;top:440.24px;width:80px;font-size:10px;line-height:10px;text-align:center;color:#222;font-weight:normal;">Qalb</div>
<div class="r" style="left:548.50px;top:454.70px;width:50.65px;height:3.60px;border:1.2px solid #3c3c3c;border-bottom:none;box-sizing:border-box;border-radius:1px 1px 0 0;"></div>
<div class="t" style="left:590.77px;top:440.24px;width:80px;font-size:10px;line-height:10px;text-align:center;color:#222;font-weight:normal;">Age</div>
<div class="r" style="left:603.55px;top:454.70px;width:50.65px;height:3.60px;border:1.2px solid #9a9a9a;border-bottom:none;box-sizing:border-box;border-radius:1px 1px 0 0;"></div>
<div class="t" style="left:644.32px;top:440.24px;width:80px;font-size:10px;line-height:10px;text-align:center;color:#222;font-weight:normal;">Sex</div>
<div class="r" style="left:658.60px;top:454.70px;width:50.65px;height:3.60px;border:1.2px solid #3c3c3c;border-bottom:none;box-sizing:border-box;border-radius:1px 1px 0 0;"></div>
<div class="t" style="left:699.37px;top:440.24px;width:80px;font-size:10px;line-height:10px;text-align:center;color:#222;font-weight:normal;">MMSE</div>
<div class="r" style="left:713.65px;top:454.70px;width:50.65px;height:3.60px;border:1.2px solid #9a9a9a;border-bottom:none;box-sizing:border-box;border-radius:1px 1px 0 0;"></div>
<div class="r" style="left:436.60px;top:461.20px;width:27.82px;height:242.80px;background:linear-gradient(to bottom,#c83030 0%,#c52f2f 2.11%,#b02a2a 3.76%,#942323 27.65%,#882020 29.51%,#6c1919 49.18%,#5f1616 56.59%,#4a1010 58.34%,#380c0c 72.04%,#290808 73.79%,#1d0606 83.57%,#0e0202 85.53%,#070301 90.27%,#080f04 90.99%,#0c270b 92.02%,#0d2e0d 93.36%,#103910 100%);"></div>
<div class="r" style="left:464.12px;top:461.20px;width:27.82px;height:242.80px;background:linear-gradient(to bottom,#8a2020 0%,#871f1f 2.01%,#6c1818 3.66%,#641616 8.81%,#581414 18.07%,#4a1010 19.82%,#2c0808 49.18%,#180505 74.61%,#110404 76.88%,#060101 89.13%,#020000 94.39%,#000000 100%);"></div>
<div class="r" style="left:491.65px;top:461.20px;width:27.82px;height:242.80px;background:linear-gradient(to bottom,#250808 0%,#230808 8.70%,#170505 10.66%,#0c0202 23.02%,#050000 24.97%,#000200 51.03%,#000b00 53.09%,#061906 74.61%,#082108 76.78%,#0c2b0c 94.08%,#103a10 95.42%,#134913 95.93%,#186318 96.34%,#27ab27 97.17%,#2cc12c 97.58%,#2eca2e 98.09%,#2ecc2e 100%);"></div>
<div class="r" style="left:519.17px;top:461.20px;width:27.82px;height:242.80px;background:linear-gradient(to bottom,#4a1010 0%,#480f0f 4.07%,#3a0c0c 5.92%,#2e0a0a 27.65%,#240808 29.61%,#160505 55.66%,#0a0202 57.52%,#000200 74.61%,#000800 76.88%,#010a01 83.68%,#0a210a 85.53%,#0e300e 100%);"></div>
<div class="r" style="left:546.70px;top:461.20px;width:27.82px;height:242.80px;background:linear-gradient(to bottom,#5a1414 0%,#571313 1.80%,#4b1111 2.42%,#2c0a0a 3.45%,#240808 4.27%,#190505 17.87%,#010000 19.72%,#000500 21.27%,#011101 22.81%,#092209 32.70%,#0a270a 35.38%,#0e320e 65.14%,#103b10 67.20%,#144914 93.98%,#1a5f1a 95.83%,#1a601a 100%);"></div>
<div class="r" style="left:574.23px;top:461.20px;width:27.82px;height:242.80px;background:linear-gradient(to bottom,#4a1010 0%,#480f0f 3.96%,#360b0b 5.72%,#290808 36.92%,#1e0606 38.88%,#0f0303 64.93%,#010000 66.79%,#000200 84.09%,#010a01 86.46%,#061806 100%);"></div>
<div class="r" style="left:601.75px;top:461.20px;width:27.82px;height:242.80px;background:linear-gradient(to bottom,#7a1c1c 0%,#6d1a1a 8.91%,#641818 10.87%,#591414 36.82%,#4a1010 38.77%,#390c0c 65.14%,#2f0a0a 67.20%,#240808 79.15%,#180505 81.00%,#150404 86.56%,#010000 88.31%,#010201 92.74%,#040d04 93.36%,#134213 94.59%,#164c16 95.21%,#1a591a 100%);"></div>
<div class="r" style="left:629.27px;top:461.20px;width:27.82px;height:242.80px;background:linear-gradient(to bottom,#4a1010 0%,#3e0e0e 18.18%,#350b0b 20.13%,#280808 46.40%,#200606 48.46%,#160505 74.61%,#0f0303 76.88%,#030000 89.13%,#000000 93.87%,#010201 97.68%,#061306 98.71%,#0a1f0a 99.64%,#0a200a 100%);"></div>
<div class="r" style="left:656.80px;top:461.20px;width:27.82px;height:242.80px;background:linear-gradient(to bottom,#4a1010 0%,#480f0f 8.60%,#350b0b 10.45%,#290808 36.92%,#1d0606 38.88%,#110404 55.77%,#080101 57.72%,#000200 79.35%,#020c02 81.93%,#0a200a 92.95%,#0e2e0e 93.87%,#113d11 94.80%,#134313 97.68%,#185418 98.51%,#1d661d 99.33%,#1e6a1e 100%);"></div>
<div class="r" style="left:684.33px;top:461.20px;width:27.82px;height:242.80px;background:linear-gradient(to bottom,#1a0505 0%,#180505 8.70%,#0a0202 10.56%,#000000 38.67%,#000300 41.66%,#001000 43.41%,#071a07 65.14%,#0a230a 67.20%,#0e2f0e 83.78%,#124012 85.63%,#164816 100%);"></div>
<div class="r" style="left:711.85px;top:461.20px;width:27.82px;height:242.80px;background:linear-gradient(to bottom,#8a2020 0%,#851f1f 0.98%,#741b1b 1.60%,#551313 2.42%,#4c1010 3.04%,#470f0f 6.64%,#390c0c 7.47%,#270808 8.39%,#230707 11.28%,#190505 27.45%,#0a0202 29.40%,#000200 46.50%,#000900 48.76%,#041204 74.61%,#061906 76.88%,#0a220a 93.56%,#0c280c 95.62%,#0c280c 100%);"></div>
<div class="r" style="left:739.38px;top:461.20px;width:27.82px;height:242.80px;background:linear-gradient(to bottom,#2a0808 0%,#280808 9.32%,#230808 16.12%,#1c0606 37.13%,#140404 39.19%,#080202 65.14%,#000000 67.10%,#000200 79.35%,#010a01 81.82%,#082008 100%);"></div>
<div class="r" style="left:491.15px;top:461.20px;width:1.00px;height:242.80px;background:rgba(238,238,228,0.85);"></div>
<div class="r" style="left:546.20px;top:461.20px;width:1.00px;height:242.80px;background:rgba(238,238,228,0.85);"></div>
<div class="r" style="left:601.25px;top:461.20px;width:1.00px;height:242.80px;background:rgba(238,238,228,0.85);"></div>
<div class="r" style="left:656.30px;top:461.20px;width:1.00px;height:242.80px;background:rgba(238,238,228,0.85);"></div>
<div class="r" style="left:711.35px;top:461.20px;width:1.00px;height:242.80px;background:rgba(238,238,228,0.85);"></div>
<div class="r" style="left:436.60px;top:461.20px;width:330.30px;height:242.80px;border:1px solid #151515;box-sizing:border-box;"></div>
<div class="t" style="left:430.36px;top:707.68px;width:40px;font-size:9px;line-height:9px;text-align:center;color:#222;font-weight:normal;">A&beta;(+)</div>
<div class="t" style="left:457.89px;top:707.68px;width:40px;font-size:9px;line-height:9px;text-align:center;color:#222;font-weight:normal;">A&beta;(-)</div>
<div class="t" style="left:485.41px;top:707.68px;width:40px;font-size:9px;line-height:9px;text-align:center;color:#222;font-weight:normal;">A&beta;(+)</div>
<div class="t" style="left:512.94px;top:707.68px;width:40px;font-size:9px;line-height:9px;text-align:center;color:#222;font-weight:normal;">A&beta;(-)</div>
<div class="t" style="left:540.46px;top:707.68px;width:40px;font-size:9px;line-height:9px;text-align:center;color:#222;font-weight:normal;">A&beta;(+)</div>
<div class="t" style="left:567.99px;top:707.68px;width:40px;font-size:9px;line-height:9px;text-align:center;color:#222;font-weight:normal;">A&beta;(-)</div>
<div class="t" style="left:595.51px;top:707.68px;width:40px;font-size:9px;line-height:9px;text-align:center;color:#222;font-weight:normal;">A&beta;(+)</div>
<div class="t" style="left:623.04px;top:707.68px;width:40px;font-size:9px;line-height:9px;text-align:center;color:#222;font-weight:normal;">A&beta;(-)</div>
<div class="t" style="left:650.56px;top:707.68px;width:40px;font-size:9px;line-height:9px;text-align:center;color:#222;font-weight:normal;">A&beta;(+)</div>
<div class="t" style="left:678.09px;top:707.68px;width:40px;font-size:9px;line-height:9px;text-align:center;color:#222;font-weight:normal;">A&beta;(-)</div>
<div class="t" style="left:705.61px;top:707.68px;width:40px;font-size:9px;line-height:9px;text-align:center;color:#222;font-weight:normal;">A&beta;(+)</div>
<div class="t" style="left:733.14px;top:707.68px;width:40px;font-size:9px;line-height:9px;text-align:center;color:#222;font-weight:normal;">A&beta;(-)</div>
<div class="r" style="left:771.60px;top:461.10px;width:5.60px;height:55.70px;background:linear-gradient(to bottom,#d03333 0%,#a02828 16.1%,#3a0c0c 36.8%,#000 46.0%,#0c300c 62.2%,#1e8a1e 83.8%,#28c028 100%);border:0.6px solid #555;box-sizing:border-box;"></div>
<div class="r" style="left:777.20px;top:467.60px;width:1.20px;height:1.20px;background:#444;"></div>
<div class="t" style="left:780.50px;top:464.52px;width:30px;font-size:7.6px;line-height:7.6px;text-align:left;color:#333;font-weight:normal;">1.0</div>
<div class="r" style="left:777.20px;top:476.80px;width:1.20px;height:1.20px;background:#444;"></div>
<div class="t" style="left:780.50px;top:473.72px;width:30px;font-size:7.6px;line-height:7.6px;text-align:left;color:#333;font-weight:normal;">0.5</div>
<div class="r" style="left:777.20px;top:486.10px;width:1.20px;height:1.20px;background:#444;"></div>
<div class="t" style="left:780.50px;top:483.02px;width:30px;font-size:7.6px;line-height:7.6px;text-align:left;color:#333;font-weight:normal;">0</div>
<div class="r" style="left:777.20px;top:495.00px;width:1.20px;height:1.20px;background:#444;"></div>
<div class="t" style="left:780.50px;top:491.92px;width:30px;font-size:7.6px;line-height:7.6px;text-align:left;color:#333;font-weight:normal;">-0.5</div>
<div class="r" style="left:777.20px;top:504.70px;width:1.20px;height:1.20px;background:#444;"></div>
<div class="t" style="left:780.50px;top:501.62px;width:30px;font-size:7.6px;line-height:7.6px;text-align:left;color:#333;font-weight:normal;">-1.0</div>
<div class="r" style="left:777.20px;top:513.90px;width:1.20px;height:1.20px;background:#444;"></div>
<div class="t" style="left:780.50px;top:510.82px;width:30px;font-size:7.6px;line-height:7.6px;text-align:left;color:#333;font-weight:normal;">-1.5</div>
<div class="t" style="left:505.00px;top:746.27px;width:200px;font-size:20px;line-height:20px;text-align:center;color:#111;font-weight:normal;">PLASMA</div>
<div class="r" style="left:435.70px;top:769.40px;width:332.50px;height:1.60px;background:#999;"></div>
<div class="t" style="left:428.00px;top:779.95px;width:60px;font-size:14px;line-height:14px;text-align:center;color:#222;font-weight:normal;letter-spacing:0.2px;">*</div>
<div class="t" style="left:424.12px;top:799.53px;width:80px;font-size:10px;line-height:10px;text-align:center;color:#222;font-weight:normal;">p-Tau<sup>181</sup></div>
<div class="r" style="left:438.40px;top:814.30px;width:50.65px;height:3.60px;border:1.2px solid #3c3c3c;border-bottom:none;box-sizing:border-box;border-radius:1px 1px 0 0;"></div>
<div class="t" style="left:479.18px;top:797.63px;width:80px;font-size:10px;line-height:10px;text-align:center;color:#222;font-weight:normal;">A&beta;<sub>1-42</sub></div>
<div class="r" style="left:493.45px;top:814.30px;width:50.65px;height:3.60px;border:1.2px solid #3c3c3c;border-bottom:none;box-sizing:border-box;border-radius:1px 1px 0 0;"></div>
<div class="t" style="left:534.23px;top:799.53px;width:80px;font-size:10px;line-height:10px;text-align:center;color:#222;font-weight:normal;">Qalb</div>
<div class="r" style="left:548.50px;top:814.30px;width:50.65px;height:3.60px;border:1.2px solid #3c3c3c;border-bottom:none;box-sizing:border-box;border-radius:1px 1px 0 0;"></div>
<div class="t" style="left:589.27px;top:799.53px;width:80px;font-size:10px;line-height:10px;text-align:center;color:#222;font-weight:normal;">Age</div>
<div class="r" style="left:603.55px;top:814.30px;width:50.65px;height:3.60px;border:1.2px solid #3c3c3c;border-bottom:none;box-sizing:border-box;border-radius:1px 1px 0 0;"></div>
<div class="t" style="left:644.32px;top:799.53px;width:80px;font-size:10px;line-height:10px;text-align:center;color:#222;font-weight:normal;">Sex</div>
<div class="r" style="left:658.60px;top:814.30px;width:50.65px;height:3.60px;border:1.2px solid #777;border-bottom:none;box-sizing:border-box;border-radius:1px 1px 0 0;"></div>
<div class="t" style="left:699.37px;top:799.53px;width:80px;font-size:10px;line-height:10px;text-align:center;color:#222;font-weight:normal;">MMSE</div>
<div class="r" style="left:713.65px;top:814.30px;width:50.65px;height:3.60px;border:1.2px solid #3c3c3c;border-bottom:none;box-sizing:border-box;border-radius:1px 1px 0 0;"></div>
<div class="r" style="left:436.60px;top:821.00px;width:27.82px;height:242.00px;background:linear-gradient(to bottom,#b02a2a 0%,#ad2929 1.70%,#a02626 2.32%,#751b1b 3.36%,#691818 3.98%,#591414 8.83%,#4a1010 10.49%,#390c0c 27.43%,#290808 29.39%,#190505 46.13%,#080101 47.99%,#010200 60.28%,#041104 62.24%,#0a210a 74.23%,#0e390e 76.08%,#165816 88.38%,#1d6f1d 90.24%,#249124 100%);"></div>
<div class="r" style="left:464.12px;top:821.00px;width:27.82px;height:242.00px;background:linear-gradient(to bottom,#250808 0%,#230707 8.73%,#150404 10.59%,#060101 27.84%,#000000 29.91%,#000200 41.68%,#020b02 43.75%,#071907 65.24%,#0a210a 67.41%,#0d2c0d 93.65%,#0e300e 96.44%,#0e300e 100%);"></div>
<div class="r" style="left:491.65px;top:821.00px;width:27.82px;height:242.00px;background:linear-gradient(to bottom,#4a1010 0%,#480f0f 8.73%,#3a0c0c 10.59%,#2e0a0a 27.63%,#240808 29.60%,#190505 46.13%,#0a0202 48.09%,#010201 64.93%,#041104 66.89%,#092209 81.04%,#0e300e 82.80%,#124012 100%);"></div>
<div class="r" style="left:519.17px;top:821.00px;width:27.82px;height:242.00px;background:linear-gradient(to bottom,#300a0a 0%,#2e0a0a 8.52%,#1a0505 10.49%,#080202 27.74%,#000000 29.60%,#000200 41.48%,#041004 43.44%,#092209 65.75%,#0e320e 100%);"></div>
<div class="r" style="left:546.70px;top:821.00px;width:27.82px;height:242.00px;background:linear-gradient(to bottom,#b02a2a 0%,#ad2929 2.63%,#a02626 3.25%,#761b1b 4.29%,#6b1818 4.91%,#591414 23.40%,#4b1010 24.33%,#3c0d0d 25.26%,#380c0c 30.11%,#330a0a 41.68%,#290808 43.65%,#190505 60.18%,#010100 62.04%,#010701 79.08%,#061806 80.94%,#0c280c 94.47%,#0f330f 95.09%,#154b15 95.61%,#1e701e 96.33%,#217d21 96.85%,#228022 98.40%,#228022 100%);"></div>
<div class="r" style="left:574.23px;top:821.00px;width:27.82px;height:242.00px;background:linear-gradient(to bottom,#7a1c1c 0%,#781c1c 8.42%,#6b1818 9.35%,#5c1515 10.28%,#571313 15.34%,#481010 46.02%,#310a0a 47.88%,#1d0606 74.12%,#100303 75.05%,#020000 75.98%,#000000 83.01%,#000200 93.03%,#061706 94.89%,#061806 100%);"></div>
<div class="r" style="left:601.75px;top:821.00px;width:27.82px;height:242.00px;background:linear-gradient(to bottom,#791c1c 0%,#691818 8.73%,#5a1414 10.49%,#491010 27.43%,#390c0c 29.39%,#290808 46.02%,#0f0303 47.88%,#010300 54.08%,#010a01 56.46%,#041204 62.96%,#092409 64.10%,#0c2f0c 65.03%,#124112 76.19%,#185218 78.05%,#1a5b1a 93.03%,#207120 94.89%,#217521 97.06%,#238123 97.57%,#2bb52b 98.71%,#2dc12d 99.23%,#2ec42e 100%);"></div>
<div class="r" style="left:629.27px;top:821.00px;width:27.82px;height:242.00px;background:linear-gradient(to bottom,#250808 0%,#230707 8.73%,#150404 10.59%,#080202 27.74%,#000000 29.60%,#000200 64.93%,#041004 66.89%,#0c240c 100%);"></div>
<div class="r" style="left:656.80px;top:821.00px;width:27.82px;height:242.00px;background:linear-gradient(to bottom,#7a1c1c 0%,#701a1a 9.04%,#681818 11.21%,#5c1515 23.50%,#491010 41.68%,#3e0f0f 43.85%,#290808 55.63%,#180505 57.49%,#060101 65.44%,#000000 67.30%,#000200 74.12%,#040f04 75.05%,#081e08 75.98%,#0a260a 81.15%,#0e310e 89.20%,#113f11 90.13%,#144e14 91.06%,#145014 95.92%,#165516 97.37%,#1a601a 98.81%,#1a601a 100%);"></div>
<div class="r" style="left:684.33px;top:821.00px;width:27.82px;height:242.00px;background:linear-gradient(to bottom,#250808 0%,#230707 8.73%,#150404 10.59%,#080202 27.74%,#000000 29.60%,#010201 36.93%,#041004 38.79%,#071a07 65.13%,#0a230a 67.20%,#124012 100%);"></div>
<div class="r" style="left:711.85px;top:821.00px;width:27.82px;height:242.00px;background:linear-gradient(to bottom,#691818 0%,#5a1414 8.42%,#4b1010 9.35%,#3c0d0d 10.28%,#370b0b 15.03%,#2e0a0a 27.63%,#240808 29.60%,#190505 46.02%,#010000 47.88%,#000200 60.18%,#061706 62.04%,#0a260a 79.08%,#0e390e 80.94%,#165016 95.40%,#185918 95.92%,#1d701d 96.44%,#259a25 97.16%,#29ab29 97.68%,#2ab02a 98.61%,#2ab02a 100%);"></div>
<div class="r" style="left:739.38px;top:821.00px;width:27.82px;height:242.00px;background:linear-gradient(to bottom,#2a0808 0%,#280808 8.83%,#1e0606 10.69%,#160404 37.04%,#0d0202 39.10%,#030000 56.15%,#000000 60.18%,#000200 93.13%,#041004 95.09%,#041004 100%);"></div>
<div class="r" style="left:491.15px;top:821.00px;width:1.00px;height:242.00px;background:rgba(238,238,228,0.85);"></div>
<div class="r" style="left:546.20px;top:821.00px;width:1.00px;height:242.00px;background:rgba(238,238,228,0.85);"></div>
<div class="r" style="left:601.25px;top:821.00px;width:1.00px;height:242.00px;background:rgba(238,238,228,0.85);"></div>
<div class="r" style="left:656.30px;top:821.00px;width:1.00px;height:242.00px;background:rgba(238,238,228,0.85);"></div>
<div class="r" style="left:711.35px;top:821.00px;width:1.00px;height:242.00px;background:rgba(238,238,228,0.85);"></div>
<div class="r" style="left:436.60px;top:821.00px;width:330.30px;height:242.00px;border:1px solid #151515;box-sizing:border-box;"></div>
<div class="t" style="left:430.36px;top:1067.18px;width:40px;font-size:9px;line-height:9px;text-align:center;color:#222;font-weight:normal;">A&beta;(+)</div>
<div class="t" style="left:457.89px;top:1067.18px;width:40px;font-size:9px;line-height:9px;text-align:center;color:#222;font-weight:normal;">A&beta;(-)</div>
<div class="t" style="left:485.41px;top:1067.18px;width:40px;font-size:9px;line-height:9px;text-align:center;color:#222;font-weight:normal;">A&beta;(+)</div>
<div class="t" style="left:512.94px;top:1067.18px;width:40px;font-size:9px;line-height:9px;text-align:center;color:#222;font-weight:normal;">A&beta;(-)</div>
<div class="t" style="left:540.46px;top:1067.18px;width:40px;font-size:9px;line-height:9px;text-align:center;color:#222;font-weight:normal;">A&beta;(+)</div>
<div class="t" style="left:567.99px;top:1067.18px;width:40px;font-size:9px;line-height:9px;text-align:center;color:#222;font-weight:normal;">A&beta;(-)</div>
<div class="t" style="left:595.51px;top:1067.18px;width:40px;font-size:9px;line-height:9px;text-align:center;color:#222;font-weight:normal;">A&beta;(+)</div>
<div class="t" style="left:623.04px;top:1067.18px;width:40px;font-size:9px;line-height:9px;text-align:center;color:#222;font-weight:normal;">A&beta;(-)</div>
<div class="t" style="left:650.56px;top:1067.18px;width:40px;font-size:9px;line-height:9px;text-align:center;color:#222;font-weight:normal;">A&beta;(+)</div>
<div class="t" style="left:678.09px;top:1067.18px;width:40px;font-size:9px;line-height:9px;text-align:center;color:#222;font-weight:normal;">A&beta;(-)</div>
<div class="t" style="left:705.61px;top:1067.18px;width:40px;font-size:9px;line-height:9px;text-align:center;color:#222;font-weight:normal;">A&beta;(+)</div>
<div class="t" style="left:733.14px;top:1067.18px;width:40px;font-size:9px;line-height:9px;text-align:center;color:#222;font-weight:normal;">A&beta;(-)</div>
<div class="r" style="left:771.60px;top:820.40px;width:5.60px;height:55.30px;background:linear-gradient(to bottom,#d03333 0%,#a02828 16.8%,#3a0c0c 38.4%,#000 48.0%,#0c300c 63.6%,#1e8a1e 84.4%,#28c028 100%);border:0.6px solid #555;box-sizing:border-box;"></div>
<div class="r" style="left:777.20px;top:832.40px;width:1.20px;height:1.20px;background:#444;"></div>
<div class="t" style="left:780.50px;top:829.32px;width:30px;font-size:7.6px;line-height:7.6px;text-align:left;color:#333;font-weight:normal;">0.5</div>
<div class="r" style="left:777.20px;top:846.10px;width:1.20px;height:1.20px;background:#444;"></div>
<div class="t" style="left:780.50px;top:843.02px;width:30px;font-size:7.6px;line-height:7.6px;text-align:left;color:#333;font-weight:normal;">0</div>
<div class="r" style="left:777.20px;top:859.80px;width:1.20px;height:1.20px;background:#444;"></div>
<div class="t" style="left:780.50px;top:856.72px;width:30px;font-size:7.6px;line-height:7.6px;text-align:left;color:#333;font-weight:normal;">-0.5</div>
<div class="r" style="left:777.20px;top:873.60px;width:1.20px;height:1.20px;background:#444;"></div>
<div class="t" style="left:780.50px;top:870.52px;width:30px;font-size:7.6px;line-height:7.6px;text-align:left;color:#333;font-weight:normal;">-1.0</div>
</body></html>
